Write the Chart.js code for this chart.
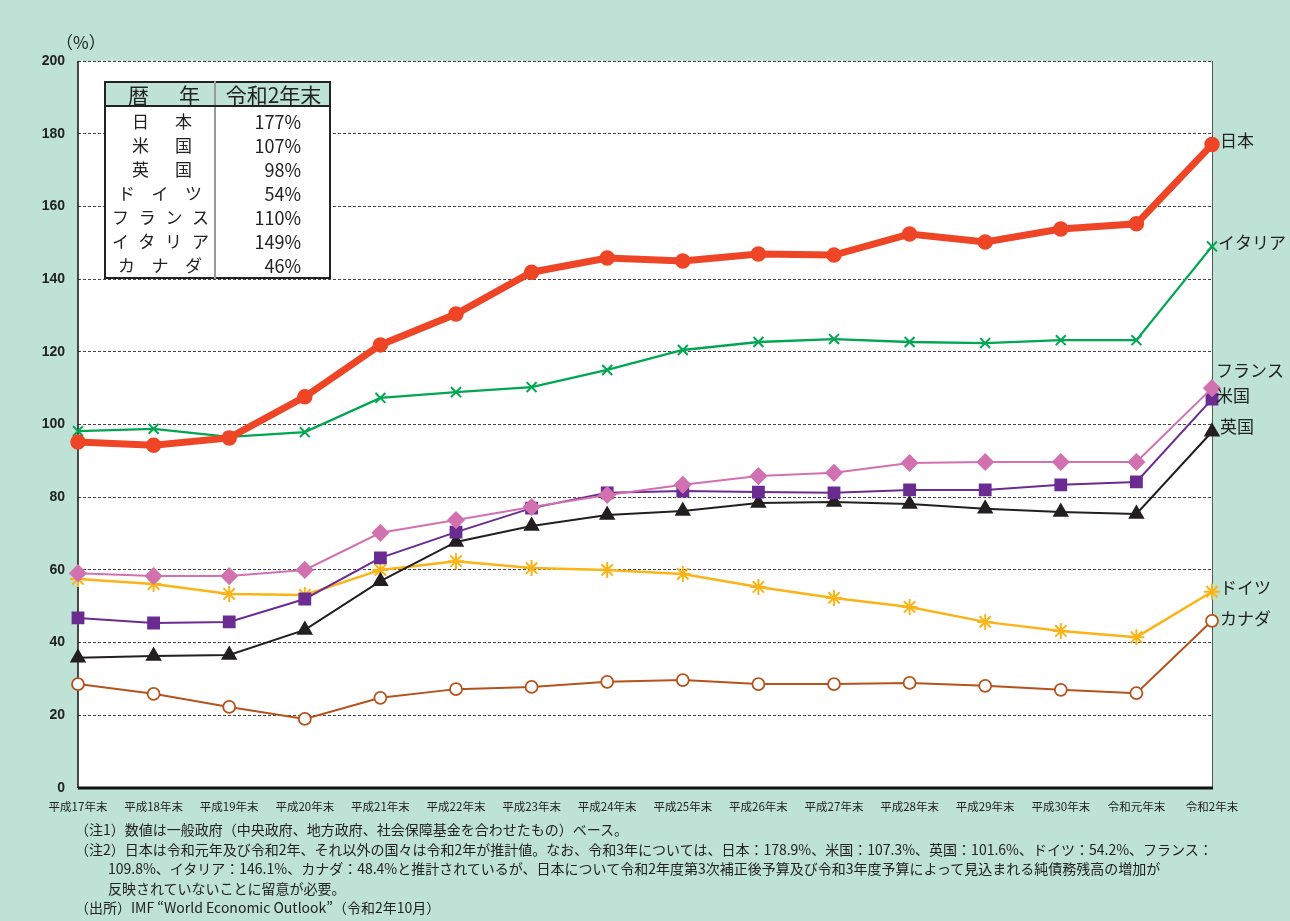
<!DOCTYPE html>
<html lang="ja">
<head>
<meta charset="utf-8">
<script src="https://cdn.jsdelivr.net/npm/chart.js@4.4.0/dist/chart.umd.min.js"></script>
<style>
  html, body { margin: 0; padding: 0; }
  body {
    width: 1290px; height: 921px; position: relative; overflow: hidden;
    background: #bee2d6;
    font-family: "Noto Sans CJK JP", "Noto Sans", sans-serif;
  }
  #wrap { position: absolute; left: 0; top: 0; width: 1290px; height: 820px; }
  #unit {
    position: absolute; left: 56px; top: 29px; font-size: 17px;
    font-family: "Noto Sans CJK JP", sans-serif; color: #222;
  }
  table.box {
    position: absolute; left: 104px; top: 81px; width: 225px;
    table-layout: fixed;
    border-collapse: collapse; border: 2.5px solid #222; background: #fff;
    font-family: "Noto Sans CJK JP", sans-serif; color: #222;
  }
  table.box th {
    background: #bee2d6; font-weight: normal; font-size: 21px; height: 22px;
    line-height: 22px; padding: 0; border-bottom: 2.5px solid #222; white-space: nowrap;
  }
  table.box td { font-size: 17px; height: 24px; line-height: 24px; padding: 0; white-space: nowrap; }
  table.box .c1 { border-right: 2px solid #999; }
  table.box td.c1 { text-align: justify; text-align-last: justify; }
  table.box td.n2 { padding: 0 22px 0 26px; }
  table.box td.n3 { padding: 0 12px 0 12px; }
  table.box td.n4 { padding: 0 5px 0 6px; }
  table.box th.c1 { text-align: justify; text-align-last: justify; padding: 0 14px 0 22px; }
  table.box th.c2 { text-align: center; padding-left: 2px; }
  table.box td.c2 { text-align: right; padding-right: 28px; font-size: 18px; }
  table.box .first td { padding-top: 2px; }
  #notes {
    position: absolute; left: 75px; top: 820px; font-size: 14px; line-height: 19.5px; color: #222;
  }
  #notes .ind { padding-left: 33px; }
</style>
</head>
<body>
<div id="wrap"><canvas id="myChart"></canvas></div>
<div id="unit">（%）</div>

<table class="box">
  <colgroup><col style="width:110px"><col style="width:115px"></colgroup>
  <tr><th class="c1">暦年</th><th class="c2">令和2年末</th></tr>
  <tr class="first"><td class="c1 n2">日本</td><td class="c2">177%</td></tr>
  <tr><td class="c1 n2">米国</td><td class="c2">107%</td></tr>
  <tr><td class="c1 n2">英国</td><td class="c2">98%</td></tr>
  <tr><td class="c1 n3">ドイツ</td><td class="c2">54%</td></tr>
  <tr><td class="c1 n4">フランス</td><td class="c2">110%</td></tr>
  <tr><td class="c1 n4">イタリア</td><td class="c2">149%</td></tr>
  <tr><td class="c1 n3">カナダ</td><td class="c2">46%</td></tr>
</table>

<div id="notes">
  <div>（注1）数値は一般政府（中央政府、地方政府、社会保障基金を合わせたもの）ベース。</div>
  <div>（注2）日本は令和元年及び令和2年、それ以外の国々は令和2年が推計値。なお、令和3年については、日本：178.9%、米国：107.3%、英国：101.6%、ドイツ：54.2%、フランス：</div>
  <div class="ind">109.8%、イタリア：146.1%、カナダ：48.4%と推計されているが、日本について令和2年度第3次補正後予算及び令和3年度予算によって見込まれる純債務残高の増加が</div>
  <div class="ind">反映されていないことに留意が必要。</div>
  <div>（出所）IMF “World Economic Outlook”（令和2年10月）</div>
</div>

<script>
const years = ['平成17年末', '平成18年末', '平成19年末', '平成20年末', '平成21年末', '平成22年末',
  '平成23年末', '平成24年末', '平成25年末', '平成26年末', '平成27年末', '平成28年末',
  '平成29年末', '平成30年末', '令和元年末', '令和2年末'];

const japan   = [95.2, 94.3, 96.3, 107.6, 121.9, 130.4, 141.9, 145.8, 145.0, 146.9, 146.6, 152.4, 150.2, 153.8, 155.2, 177];
const italy   = [98.2, 98.8, 96.6, 97.9, 107.3, 108.9, 110.3, 115.0, 120.5, 122.7, 123.5, 122.7, 122.4, 123.2, 123.2, 149];
const france  = [59.1, 58.3, 58.3, 60.0, 70.2, 73.7, 77.3, 80.6, 83.4, 85.8, 86.7, 89.4, 89.7, 89.7, 89.7, 110];
const usa     = [46.8, 45.4, 45.7, 52.0, 63.3, 70.4, 77.0, 81.2, 81.7, 81.4, 81.2, 82.0, 82.0, 83.4, 84.2, 107];
const uk      = [35.8, 36.3, 36.6, 43.5, 56.9, 67.7, 72.1, 75.1, 76.2, 78.4, 78.7, 78.1, 76.8, 75.9, 75.4, 98];
const germany = [57.5, 56.1, 53.4, 53.1, 60.0, 62.4, 60.5, 60.0, 58.9, 55.3, 52.3, 49.8, 45.7, 43.2, 41.5, 54];
const canada  = [28.6, 25.9, 22.3, 19.0, 24.8, 27.2, 27.8, 29.2, 29.7, 28.6, 28.6, 28.9, 28.1, 27.0, 26.1, 46];

const yTicks = [0, 20, 40, 60, 80, 100, 120, 140, 160, 180, 200];

// label next to the last point of each line: [text, dx, dy]
const endLabels = [
  ['日本', 8, -4], ['イタリア', 6, -4], ['フランス', 4, -18], ['米国', 4, -4],
  ['英国', 8, -5], ['ドイツ', 8, -4], ['カナダ', 8, -2]
];

const mk = (label, data, color, style, opts) => Object.assign({
  label, data, borderColor: color, backgroundColor: color,
  pointStyle: style, pointBackgroundColor: color, pointBorderColor: color,
  borderWidth: 2, pointRadius: 7, pointBorderWidth: 1.5, tension: 0
}, opts || {});

const datasets = [
  mk('日本', japan, '#ee4526', 'circle', { borderWidth: 7, pointRadius: 7 }),
  mk('イタリア', italy, '#00a651', 'crossRot', { borderWidth: 2.3, pointBorderWidth: 2 }),
  mk('フランス', france, '#d271b0', 'rectRot', { pointRadius: 8 }),
  mk('米国', usa, '#6a2c91', 'rect', { pointRadius: 8 }),
  mk('英国', uk, '#231f20', 'triangle', { pointRadius: 8 }),
  mk('ドイツ', germany, '#fbb418', 'star', { borderWidth: 2.5, pointBorderWidth: 2, pointRadius: 8 }),
  mk('カナダ', canada, '#b5531c', 'circle', { pointBackgroundColor: '#fff', pointRadius: 6, pointBorderWidth: 1.8 })
];

const frame = {
  id: 'frame',
  beforeDraw(chart) {
    const a = chart.chartArea, c = chart.ctx;
    c.save();
    c.fillStyle = '#fff';
    c.fillRect(a.left, a.top, a.right - a.left, a.bottom - a.top);
    c.restore();
  },
  beforeDatasetsDraw(chart) {
    const a = chart.chartArea, c = chart.ctx;
    c.save();
    c.strokeStyle = '#555'; c.lineWidth = 1;
    c.beginPath(); c.moveTo(a.right + 0.5, a.top); c.lineTo(a.right + 0.5, a.bottom); c.stroke();
    c.strokeStyle = '#111'; c.lineWidth = 1.5;
    c.beginPath(); c.moveTo(a.left, a.top); c.lineTo(a.left, a.bottom); c.stroke();
    c.lineWidth = 3;
    c.beginPath(); c.moveTo(a.left, a.bottom); c.lineTo(a.right + 1, a.bottom); c.stroke();
    c.restore();
  },
  afterDatasetsDraw(chart) {
    const c = chart.ctx;
    c.save();
    c.font = '17px "Noto Sans CJK JP"';
    c.fillStyle = '#222';
    c.textBaseline = 'middle';
    chart.data.datasets.forEach((ds, i) => {
      const pts = chart.getDatasetMeta(i).data;
      const p = pts[pts.length - 1];
      const [txt, dx, dy] = endLabels[i];
      c.fillText(txt, p.x + dx, p.y + dy);
    });
    c.restore();
  }
};

new Chart('myChart', {
  type: 'line',
  data: { labels: years, datasets },
  options: {
    responsive: true,
    maintainAspectRatio: false,
    animation: false,
    layout: { padding: { top: 61, right: 78, left: 0, bottom: 0 } },
    plugins: { legend: { display: false }, tooltip: { enabled: false } },
    scales: {
      x: {
        offset: false,
        grid: { display: false },
        border: { display: false },
        afterFit: (s) => { s.height = 32; },
        ticks: {
          autoSkip: false, maxRotation: 0, padding: 4,
          color: '#222', font: { size: 11.5, family: '"Noto Sans CJK JP"' }
        }
      },
      y: {
        min: 0, max: 200,
        afterFit: (s) => { s.width = 78; },
        afterBuildTicks: (s) => { s.ticks = yTicks.map(v => ({ value: v })); },
        grid: { color: '#444', lineWidth: 1, drawTicks: false },
        border: { display: false, dash: [3, 2] },
        ticks: {
          padding: 13, color: '#222',
          font: { size: 14, weight: 'bold', family: '"Liberation Sans", Arial' }
        }
      }
    }
  },
  plugins: [frame]
});
</script>
</body>
</html>
